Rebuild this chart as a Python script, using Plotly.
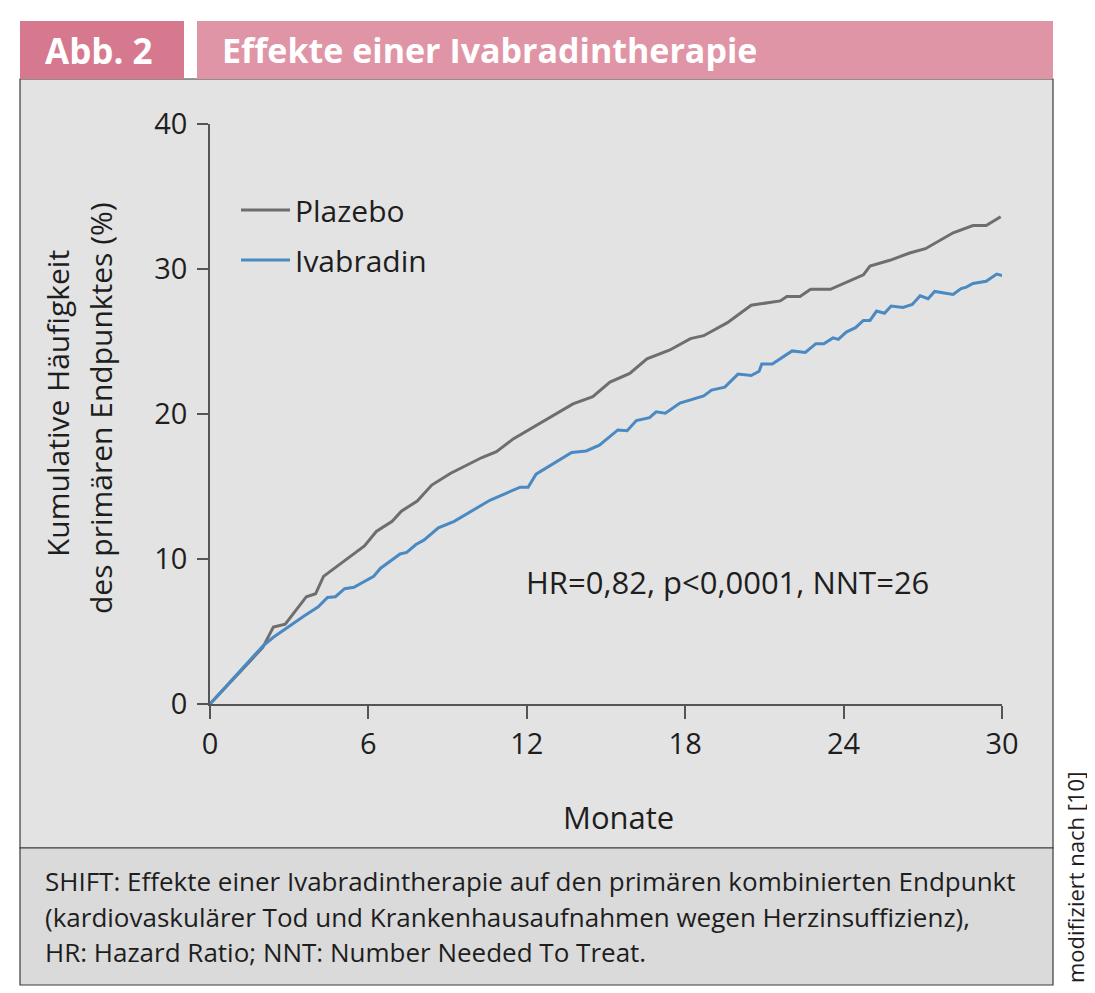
import plotly.graph_objects as go

# ---------------- data ----------------
plazebo_monate = [0, 2.0, 2.4, 2.85, 3.65, 4.0, 4.3, 4.9, 5.85, 6.3, 6.9, 7.25, 7.85,
                  8.4, 9.1, 10.3, 10.85, 11.5, 12.6, 13.75, 14.5, 15.15, 15.9, 16.55,
                  17.4, 18.2, 18.7, 19.2, 19.6, 20.5, 21.6, 21.85, 22.35, 22.75, 23.5,
                  24.75, 25.0, 25.75, 26.5, 27.1, 28.15, 28.9, 29.4, 29.95]
plazebo_werte = [0, 3.9, 5.3, 5.5, 7.4, 7.6, 8.8, 9.6, 10.9, 11.9, 12.6, 13.3, 14.0,
                 15.1, 15.9, 17.0, 17.4, 18.3, 19.5, 20.7, 21.2, 22.2, 22.8, 23.8,
                 24.4, 25.2, 25.4, 25.9, 26.3, 27.5, 27.8, 28.1, 28.1, 28.6, 28.6,
                 29.6, 30.2, 30.6, 31.1, 31.4, 32.5, 33.0, 33.0, 33.6]

ivabradin_monate = [0, 2.0, 2.4, 3.05, 3.55, 4.1, 4.45, 4.75, 5.1, 5.45, 6.2, 6.45, 7.2,
                    7.45, 7.8, 8.1, 8.65, 9.25, 10.6, 11.75, 12.05, 12.35, 13.7, 14.25,
                    14.75, 15.45, 15.8, 16.15, 16.65, 16.9, 17.25, 17.8, 18.7, 19.0,
                    19.5, 20.0, 20.5, 20.8, 20.9, 21.3, 22.05, 22.55, 22.95, 23.25,
                    23.6, 23.8, 24.1, 24.45, 24.75, 25.0, 25.25, 25.55, 25.8, 26.25,
                    26.6, 26.9, 27.2, 27.45, 28.15, 28.45, 28.65, 28.9, 29.4, 29.8, 30.2]
ivabradin_werte = [0, 4.0, 4.6, 5.45, 6.05, 6.7, 7.35, 7.4, 7.95, 8.05, 8.8, 9.35, 10.35,
                   10.45, 11.0, 11.3, 12.15, 12.6, 14.05, 14.95, 14.95, 15.85, 17.35, 17.45,
                   17.85, 18.9, 18.85, 19.55, 19.75, 20.15, 20.05, 20.75, 21.25, 21.65,
                   21.85, 22.75, 22.65, 22.95, 23.45, 23.45, 24.35, 24.25, 24.85, 24.85,
                   25.25, 25.15, 25.65, 25.95, 26.45, 26.45, 27.1, 26.95, 27.45, 27.35,
                   27.55, 28.15, 27.95, 28.45, 28.25, 28.65, 28.75, 29.0, 29.15, 29.65, 29.45]

x_ticks = [0, 6, 12, 18, 24, 30]
y_ticks = [0, 10, 20, 30, 40]

# ---------------- layout geometry ----------------
# The page body has an 8px margin, so the figure is drawn 8px smaller and all
# page-pixel positions below are shifted by that offset.
OFF = 8
W, H = 1095 - OFF, 993 - OFF
PL, PR, PT, PB = 210, 1002, 124, 704   # plot area in page pixels

def fx(px):
    return (px - PL) / (PR - PL)

def fy(py):
    return (PB - py) / (PB - PT)

FONT = "Open Sans"
TXT = "#1e1e1e"
AX = "#555555"
PANEL = "#e3e3e3"
CAPTION_BG = "#dadada"
PINK_DARK = "#d6798f"
PINK_LIGHT = "#df95a6"

fig = go.Figure()

fig.add_trace(go.Scatter(
    x=plazebo_monate, y=plazebo_werte, mode="lines", name="Plazebo",
    line=dict(color="#6e6e6e", width=3), legend="legend", showlegend=True,
    cliponaxis=False))
fig.add_trace(go.Scatter(
    x=ivabradin_monate, y=ivabradin_werte, mode="lines", name="Ivabradin",
    line=dict(color="#4a89c2", width=3), legend="legend2", showlegend=True,
    cliponaxis=False))

shapes = [
    dict(type="rect", xref="paper", yref="paper", x0=fx(20), x1=fx(1053), y0=fy(848), y1=fy(79),
         fillcolor=PANEL, line=dict(color="#3a3a3a", width=1.2), layer="below"),
    dict(type="rect", xref="paper", yref="paper", x0=fx(20), x1=fx(1053), y0=fy(985), y1=fy(848),
         fillcolor=CAPTION_BG, line=dict(color="#3a3a3a", width=1.2), layer="below"),
    dict(type="rect", xref="paper", yref="paper", x0=fx(20), x1=fx(184), y0=fy(79), y1=fy(21),
         fillcolor=PINK_DARK, line=dict(width=0), layer="below"),
    dict(type="rect", xref="paper", yref="paper", x0=fx(197), x1=fx(1053), y0=fy(79), y1=fy(21),
         fillcolor=PINK_LIGHT, line=dict(width=0), layer="below"),
]

annotations = [
    dict(text="<b>Abb. 2</b>", xref="paper", yref="paper", x=fx(99), y=fy(50),
         xanchor="center", yanchor="middle", showarrow=False,
         font=dict(family=FONT, size=35, color="white")),
    dict(text="<b>Effekte einer Ivabradintherapie</b>", xref="paper", yref="paper",
         x=fx(220), y=fy(50), xanchor="left", yanchor="middle", showarrow=False,
         font=dict(family=FONT, size=34, color="white")),
    dict(text="HR=0,82, p<0,0001, NNT=26", xref="paper", yref="paper",
         x=fx(727), y=fy(582), xanchor="center", yanchor="middle", showarrow=False,
         font=dict(family=FONT, size=31, color=TXT)),
    dict(text="Monate", xref="paper", yref="paper", x=fx(618), y=fy(817),
         xanchor="center", yanchor="middle", showarrow=False,
         font=dict(family=FONT, size=31, color=TXT)),
    dict(text="Kumulative Häufigkeit", xref="paper", yref="paper", x=fx(57), y=fy(404),
         xanchor="center", yanchor="middle", showarrow=False, textangle=-90,
         font=dict(family=FONT, size=30, color=TXT)),
    dict(text="des primären Endpunktes (%)", xref="paper", yref="paper", x=fx(100), y=fy(408),
         xanchor="center", yanchor="middle", showarrow=False, textangle=-90,
         font=dict(family=FONT, size=30, color=TXT)),
    dict(text="modifiziert nach [10]", xref="paper", yref="paper", x=fx(1075), y=fy(878),
         xanchor="center", yanchor="middle", showarrow=False, textangle=-90,
         font=dict(family=FONT, size=22, color=TXT)),
]

caption_lines = [
    "SHIFT: Effekte einer Ivabradintherapie auf den primären kombinierten Endpunkt",
    "(kardiovaskulärer Tod und Krankenhausaufnahmen wegen Herzinsuffizienz),",
    "HR: Hazard Ratio; NNT: Number Needed To Treat.",
]
for i, line in enumerate(caption_lines):
    annotations.append(dict(text=line, xref="paper", yref="paper", x=fx(43), y=fy(881 + 35.5 * i),
                            xanchor="left", yanchor="middle", showarrow=False,
                            font=dict(family=FONT, size=26, color=TXT)))

axis_common = dict(showline=True, linecolor=AX, linewidth=1.5, ticks="outside",
                   tickcolor=AX, tickwidth=1.5, showgrid=False, zeroline=False,
                   tickfont=dict(family=FONT, size=29, color=TXT), fixedrange=True)

fig.update_layout(
    width=W, height=H, autosize=False,
    margin=dict(l=PL - OFF, r=1095 - PR, t=PT - OFF, b=993 - PB, pad=0),
    paper_bgcolor="white", plot_bgcolor=PANEL,
    font=dict(family=FONT, color=TXT),
    showlegend=True,
    xaxis=dict(range=[0, 30], tickvals=x_ticks, ticklen=13, **axis_common),
    yaxis=dict(range=[0, 40], tickvals=y_ticks, ticklen=11, ticklabelstandoff=4,
               **axis_common),
    legend=dict(x=fx(236), y=fy(210), xanchor="left", yanchor="middle",
                bgcolor="rgba(0,0,0,0)", itemwidth=49,
                font=dict(family=FONT, size=30, color=TXT)),
    legend2=dict(x=fx(236), y=fy(260), xanchor="left", yanchor="middle",
                 bgcolor="rgba(0,0,0,0)", itemwidth=49,
                 font=dict(family=FONT, size=30, color=TXT)),
    shapes=shapes, annotations=annotations,
)

fig.write_html("out.html")
